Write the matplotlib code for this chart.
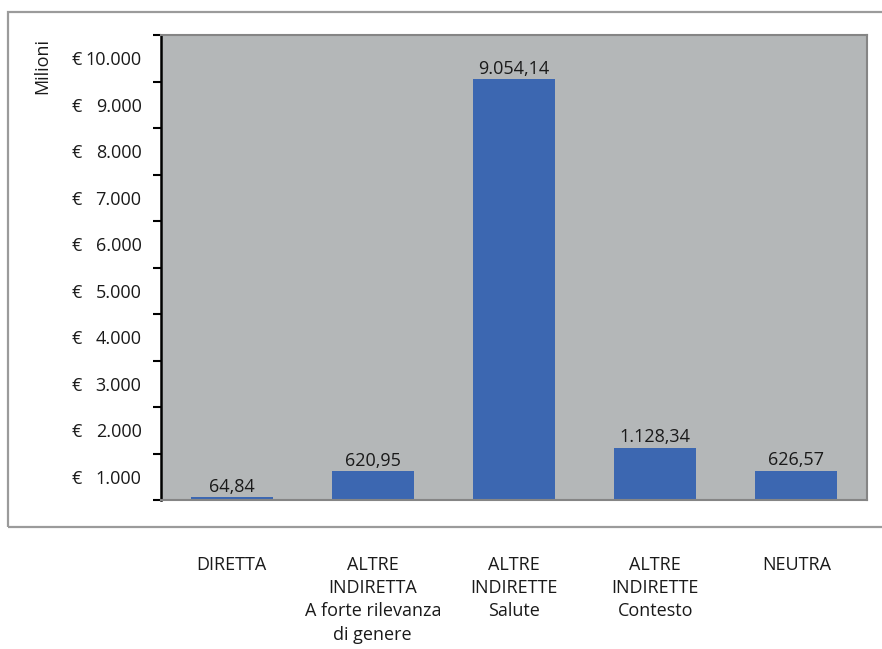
import matplotlib
matplotlib.use("Agg")
import matplotlib.pyplot as plt
from matplotlib.patches import Rectangle
from matplotlib.transforms import blended_transform_factory

categories = ["DIRETTA",
              "ALTRE\nINDIRETTA\nA forte rilevanza\ndi genere",
              "ALTRE\nINDIRETTE\nSalute",
              "ALTRE\nINDIRETTE\nContesto",
              "NEUTRA"]
values = [64.84, 620.95, 9054.14, 1128.34, 626.57]
tick_values = [1000, 2000, 3000, 4000, 5000, 6000, 7000, 8000, 9000, 10000]
tick_labels = ["1.000", "2.000", "3.000", "4.000", "5.000",
               "6.000", "7.000", "8.000", "9.000", "10.000"]

def it_fmt(v):
    s = f"{v:,.2f}"
    return s.replace(",", "X").replace(".", ",").replace("X", ".")

plt.rcParams['font.family'] = ['Open Sans', 'DejaVu Sans']
FS = 13
TXT = "#1a1a1a"

W, H = 882, 649
fig = plt.figure(figsize=(W / 100, H / 100), dpi=100)

# outer frame
fig.patches.append(Rectangle((8 / W, (H - 527) / H), 1.2, (527 - 12) / H,
                             transform=fig.transFigure, fill=False,
                             edgecolor="#9b9b9b", linewidth=1.6, zorder=0))

ax = fig.add_axes([161 / W, (H - 500) / H, (867 - 161) / W, (500 - 35) / H])
ax.set_facecolor("#b4b7b8")

x = list(range(len(categories)))
ax.bar(x, values, width=0.58, color="#3c67b1", zorder=2)
for xi, v in zip(x, values):
    ax.annotate(it_fmt(v), (xi, v), xytext=(0, 1), textcoords="offset points",
                ha="center", va="bottom", fontsize=FS, color=TXT)

ax.set_xlim(-0.5, len(categories) - 0.5)
ax.set_ylim(0, 10000)

# major ticks at multiples of 1000 (no labels), labels between ticks
ax.set_yticks([0] + tick_values)
ax.set_yticklabels([])
ax.set_yticks([t - 500 for t in tick_values], minor=True)
ax.set_yticklabels(tick_labels, minor=True, fontsize=FS, color=TXT)
ax.tick_params(axis="y", which="major", direction="out", length=6, width=1.5,
               color="black")
ax.tick_params(axis="y", which="minor", length=0, pad=14)
ax.set_xticks([])

trans = blended_transform_factory(fig.transFigure, ax.transData)
for t in tick_values:
    ax.text(72 / W, t - 500, "€", transform=trans, ha="left",
            va="center_baseline", fontsize=FS, color=TXT)

# category labels below the frame
for xi, c in zip(x, categories):
    ax.text(xi, (H - 556) / H, c,
            transform=blended_transform_factory(ax.transData, fig.transFigure),
            ha="center", va="top", fontsize=FS, linespacing=1.37, color=TXT)

fig.text(42 / W, (H - 66) / H, "Milioni", rotation=90, ha="center", va="center",
         fontsize=FS, color=TXT)

ax.spines["left"].set_color("black")
ax.spines["left"].set_linewidth(1.8)
for s in ["top", "right", "bottom"]:
    ax.spines[s].set_color("#858585")
    ax.spines[s].set_linewidth(1.5)

fig.savefig("out.png", dpi=100)
